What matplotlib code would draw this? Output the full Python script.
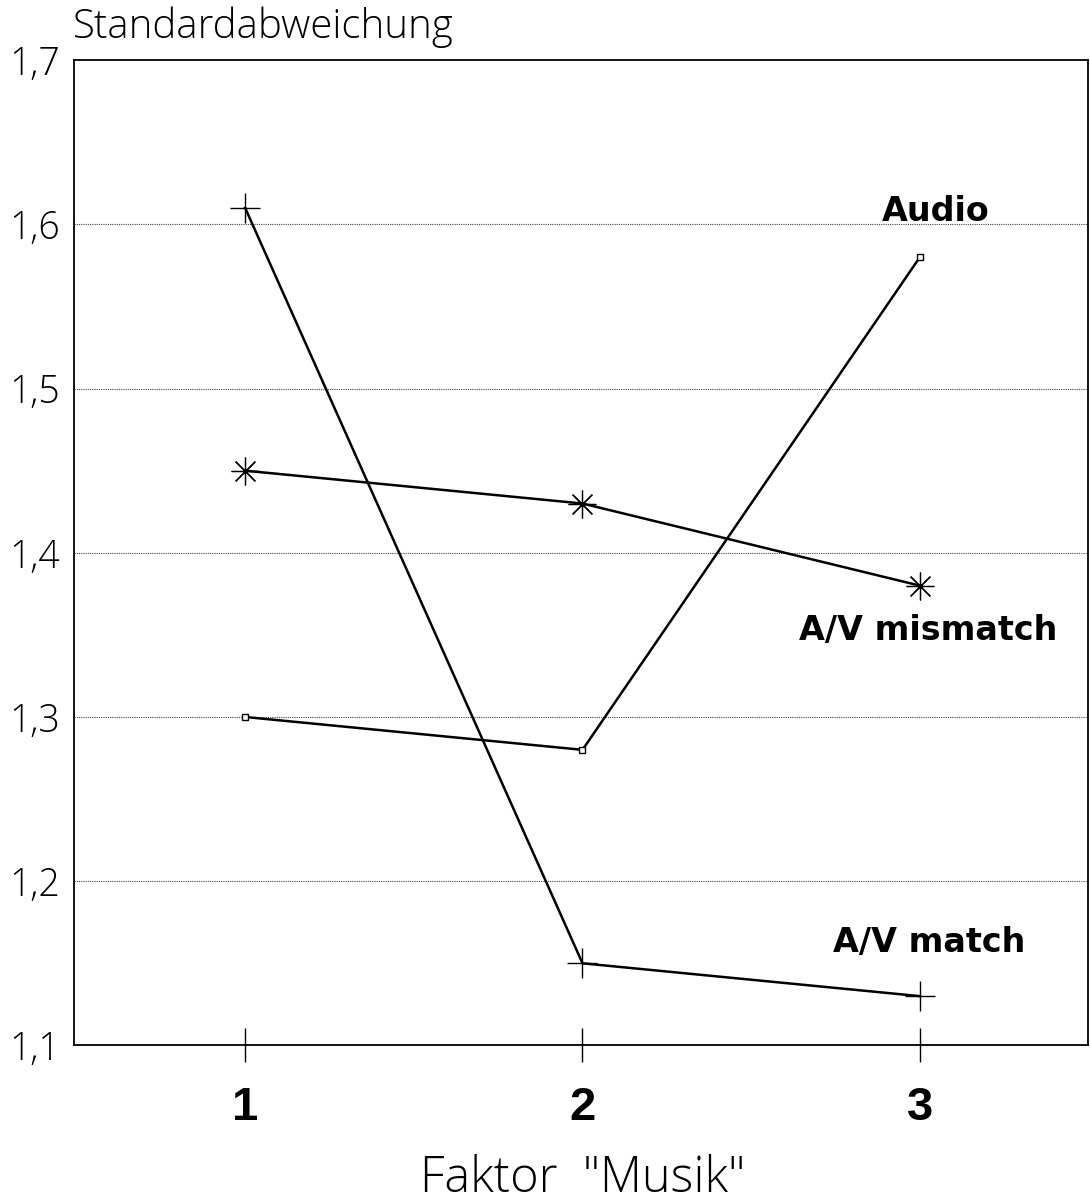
import matplotlib
matplotlib.use("Agg")
import matplotlib.pyplot as plt
from matplotlib.ticker import FuncFormatter

# Faktor "Musik" Stufen
stufen = [1, 2, 3]
av_match = [1.61, 1.15, 1.13]
av_mismatch = [1.45, 1.43, 1.38]
audio = [1.30, 1.28, 1.58]
y_ticks = [1.1, 1.2, 1.3, 1.4, 1.5, 1.6, 1.7]

duenn = ['Open Sans', 'DejaVu Sans']

fig = plt.figure(figsize=(10.9, 12.03), dpi=100, facecolor='white')
ax = fig.add_axes([0.068, 0.131, 0.930, 0.819])
ax.set_xlim(0.493, 3.498)
ax.set_ylim(1.1, 1.7)

# Gitterlinien gepunktet
for y in y_ticks[1:-1]:
    ax.axhline(y, color='#444444', linestyle=(0, (1, 1)), linewidth=0.8, zorder=1)

ax.plot(stufen, av_match, color='black', linewidth=1.8, marker='+', markersize=21,
        markeredgewidth=1.0, zorder=3)
ax.plot(stufen, av_mismatch, color='black', linewidth=1.8, marker=(8, 2, 0), markersize=20,
        markeredgewidth=0.9, zorder=3)
ax.plot(stufen, audio, color='black', linewidth=1.8, marker='s', markersize=5,
        markerfacecolor='white', markeredgewidth=1.0, zorder=3)

bold = dict(family=['DejaVu Sans'], fontweight='bold', fontsize=24)
ax.text(2.887, 1.602, 'Audio', ha='left', va='baseline', **bold)
ax.text(2.641, 1.347, 'A/V mismatch', ha='left', va='baseline', **bold)
ax.text(2.742, 1.157, 'A/V match', ha='left', va='baseline', **bold)

ax.set_xticks(stufen)
ax.set_xticklabels([str(s) for s in stufen], fontsize=34, fontweight='bold',
                   family=['Liberation Sans', 'DejaVu Sans'])
ax.tick_params(axis='x', direction='inout', length=24, width=1.0, pad=17)

ax.set_yticks(y_ticks)
ax.yaxis.set_major_formatter(FuncFormatter(lambda v, p: f'{v:.1f}'.replace('.', ',')))
ax.tick_params(axis='y', length=0, pad=10, labelsize=27)
for lbl in ax.get_yticklabels():
    lbl.set_family(duenn)
    lbl.set_fontweight('light')

for sp in ax.spines.values():
    sp.set_linewidth(1.3)
    sp.set_color('black')

fig.text(73 / 1090, 1 - 38 / 1203, 'Standardabweichung', ha='left', va='baseline',
         fontsize=29, family=duenn, fontweight='light')
fig.text(583 / 1090, 1 - 1192 / 1203, 'Faktor  "Musik"', ha='center', va='baseline',
         fontsize=35, family=duenn, fontweight='light')

fig.savefig('out.png', dpi=100, facecolor='white')
